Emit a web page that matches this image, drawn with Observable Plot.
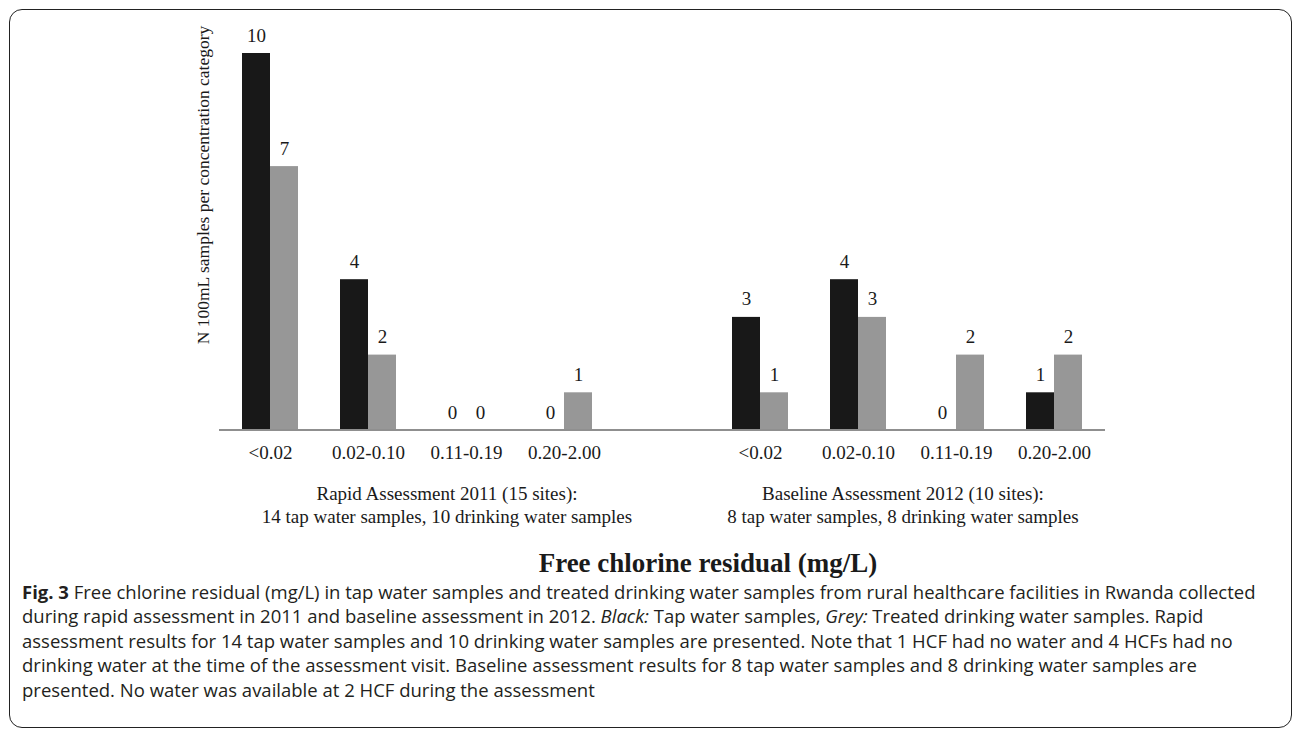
<!DOCTYPE html>
<html>
<head>
<meta charset="utf-8">
<script src="https://cdn.jsdelivr.net/npm/d3@7"></script>
<script src="https://cdn.jsdelivr.net/npm/@observablehq/plot@0.6"></script>
<style>
  html, body { margin: 0; padding: 0; background: #fff; }
  body { width: 1293px; height: 731px; position: relative; overflow: hidden; }
  #frame { position: absolute; left: 9px; top: 9px; width: 1283px; height: 719px;
    border: 1.6px solid #222; border-radius: 13px; box-sizing: border-box; }
  #chart { position: absolute; left: 0; top: 0; }
  #caption { position: absolute; left: 22px; top: 580px; width: 1265px;
    font-family: "Open Sans", "Noto Sans", sans-serif; font-size: 18.5px; line-height: 24.4px;
    color: #231f20; white-space: nowrap; }
  #caption b { font-weight: 700; }
</style>
</head>
<body>
<div id="frame"></div>
<div id="chart"></div>
<div id="caption">
<b>Fig. 3</b> Free chlorine residual (mg/L) in tap water samples and treated drinking water samples from rural healthcare facilities in Rwanda collected<br>
during rapid assessment in 2011 and baseline assessment in 2012. <i>Black:</i> Tap water samples, <i>Grey:</i> Treated drinking water samples. Rapid<br>
assessment results for 14 tap water samples and 10 drinking water samples are presented. Note that 1 HCF had no water and 4 HCFs had no<br>
drinking water at the time of the assessment visit. Baseline assessment results for 8 tap water samples and 8 drinking water samples are<br>
presented. No water was available at 2 HCF during the assessment
</div>
<script>
// ---- data ----
const concentrationLabels = ["<0.02", "0.02-0.10", "0.11-0.19", "0.20-2.00"];
const slots = ["R1", "R2", "R3", "R4", "gap", "B1", "B2", "B3", "B4"];
const slotLabels = ["<0.02", "0.02-0.10", "0.11-0.19", "0.20-2.00", "", "<0.02", "0.02-0.10", "0.11-0.19", "0.20-2.00"];
const series = ["Tap water", "Drinking water"];
const rapidTap = [10, 4, 0, 0];
const rapidDrinking = [7, 2, 0, 1];
const baselineTap = [3, 4, 0, 1];
const baselineDrinking = [1, 3, 2, 2];
const groupLabels = [
  ["Rapid Assessment 2011 (15 sites):", "14 tap water samples, 10 drinking water samples"],
  ["Baseline Assessment 2012 (10 sites):", "8 tap water samples, 8 drinking water samples"]
];
const yLabel = "N 100mL samples per concentration category";
const xTitle = "Free chlorine residual (mg/L)";

// ---- table ----
const rows = [];
concentrationLabels.forEach((c, i) => {
  rows.push({slot: slots[i], series: series[0], value: rapidTap[i]});
  rows.push({slot: slots[i], series: series[1], value: rapidDrinking[i]});
  rows.push({slot: slots[i + 5], series: series[0], value: baselineTap[i]});
  rows.push({slot: slots[i + 5], series: series[1], value: baselineDrinking[i]});
});
const slotLabelOf = new Map(slots.map((s, i) => [s, slotLabels[i]]));

const serif = "'Liberation Serif', 'Times New Roman', serif";
const FS = 19;
const W = 1293, H = 590;

const chart = Plot.plot({
  width: W, height: H,
  marginLeft: 219, marginRight: 188, marginTop: 53, marginBottom: 160,
  style: {fontFamily: serif, fontSize: FS + "px", color: "#1a1a1a", background: "transparent"},
  fx: {domain: slots, paddingInner: 0.43, paddingOuter: 0.215, label: null},
  x: {domain: series, padding: 0, axis: null},
  y: {domain: [0, 10], axis: null},
  color: {domain: series, range: ["#181818", "#979797"]},
  marks: [
    Plot.barY(rows, {fx: "slot", x: "series", y: "value", fill: "series", insetLeft: 0, insetRight: 0}),
    Plot.text(rows, {fx: "slot", x: "series", y: "value", text: d => String(d.value), dy: -18, fill: "#1a1a1a", fontSize: FS}),
    Plot.axisFx({anchor: "bottom", tickSize: 0, tickPadding: 15, label: null, tickFormat: k => slotLabelOf.get(k), fontSize: FS})
  ]
});
document.getElementById("chart").appendChild(chart);

// ---- extra labels positioned from the library's scales ----
const fx = chart.scale("fx");
const ys = chart.scale("y");
const bw = fx.bandwidth;
const svg = d3.select(chart.tagName.toLowerCase() === "svg" ? chart : chart.querySelector("svg"));
// baseline (category axis line)
svg.append("line")
  .attr("x1", fx.range[0]).attr("x2", fx.range[1])
  .attr("y1", ys.apply(0)).attr("y2", ys.apply(0))
  .attr("stroke", "#8f8f8f").attr("stroke-width", 2);
const centers = [
  (fx.apply("R1") + fx.apply("R4") + bw) / 2 + 30,
  (fx.apply("B1") + fx.apply("B4") + bw) / 2 - 4
];
groupLabels.forEach((lines, g) => {
  lines.forEach((t, j) => {
    svg.append("text")
      .attr("x", centers[g])
      .attr("y", 500 + j * 23)
      .attr("text-anchor", "middle")
      .attr("font-family", serif)
      .attr("font-size", FS)
      .attr("fill", "#1a1a1a")
      .text(t);
  });
});
svg.append("text")
  .attr("transform", "translate(209,185) rotate(-90)")
  .attr("text-anchor", "middle")
  .attr("font-family", serif)
  .attr("font-size", 17.5)
  .attr("fill", "#1a1a1a")
  .text(yLabel);
svg.append("text")
  .attr("x", 708)
  .attr("y", 572)
  .attr("text-anchor", "middle")
  .attr("font-family", serif)
  .attr("font-weight", "bold")
  .attr("font-size", 27)
  .attr("fill", "#1a1a1a")
  .text(xTitle);
</script>
</body>
</html>
